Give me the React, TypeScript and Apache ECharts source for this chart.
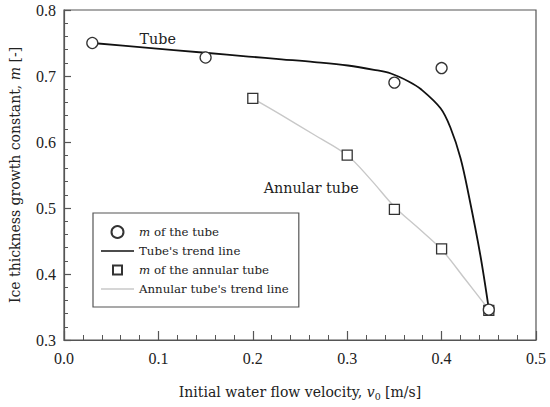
import React, { useEffect, useRef } from "react";
import * as echarts from "echarts";

const tubeX = [0.03, 0.15, 0.35, 0.4, 0.45];
const tubeM = [0.75, 0.728, 0.69, 0.712, 0.346];
const annularX = [0.2, 0.3, 0.35, 0.4, 0.45];
const annularM = [0.666, 0.58, 0.498, 0.438, 0.345];

const tubeTrendX = [0.03, 0.0832, 0.1495, 0.1955, 0.2305, 0.2653, 0.3007, 0.3284, 0.3463, 0.3656, 0.3779, 0.3989, 0.4095, 0.42, 0.4287, 0.441, 0.45];
const tubeTrendM = [0.75, 0.7433, 0.7352, 0.7295, 0.7253, 0.7211, 0.7159, 0.7094, 0.7038, 0.6914, 0.6803, 0.6511, 0.6212, 0.5758, 0.5197, 0.4288, 0.347];

const annularTrendX = [0.2, 0.23, 0.265, 0.3, 0.325, 0.35, 0.375, 0.4, 0.425, 0.45];
const annularTrendM = [0.666, 0.641, 0.611, 0.58, 0.543, 0.502, 0.47, 0.437, 0.392, 0.346];

const seriesNames = ["m of the tube", "Tube's trend line", "m of the annular tube", "Annular tube's trend line"];
const annotations = [
  { text: "Tube", x: 0.08, y: 0.756 },
  { text: "Annular tube", x: 0.2115, y: 0.53 },
];

const FONT = "'DejaVu Serif', 'Liberation Serif', serif";
const NUMFONT = "'Liberation Serif', 'DejaVu Serif', serif";
const TXT = "#222";
const AX = "#555";
const TUBE_LINE = "#111";
const ANN_LINE = "#c8c8c8";

const zip = (xs: number[], ys: number[]) => xs.map((x, i) => [x, ys[i]]);

const curveSeries = (name: string, xs: number[], ys: number[], color: string, width: number, z: number) => ({
  name,
  type: "custom",
  data: zip(xs, ys),
  encode: { x: 0, y: 1 },
  itemStyle: { color },
  z,
  renderItem: (params: any, api: any) => {
    if (params.dataIndex !== 0) return null;
    const pts = xs.map((x, i) => api.coord([x, ys[i]]));
    return {
      type: "polyline",
      shape: { points: pts, smooth: 0.35 },
      style: { stroke: color, lineWidth: width, fill: "none" },
      silent: true,
    };
  },
});

export default function App() {
  const ref = useRef<HTMLDivElement>(null);
  useEffect(() => {
    if (!ref.current) return;
    const chart = echarts.init(ref.current, undefined, { renderer: "svg" });
    const lineIcon = "path://M0,0M33,12M0,5.15L33,5.15L33,6.85L0,6.85Z";
    const option: any = {
      animation: false,
      backgroundColor: "#fff",
      grid: {
        left: 61,
        right: 14,
        top: 10,
        bottom: 67,
        show: true,
        borderColor: AX,
        borderWidth: 1.2,
        backgroundColor: "transparent",
      },
      xAxis: {
        type: "value",
        min: 0,
        max: 0.5,
        interval: 0.1,
        name: "{n|Initial water flow velocity, }{i|v}{s|0}{n| [m/s]}",
        nameLocation: "middle",
        nameGap: 43,
        nameTextStyle: {
          rich: {
            n: { fontFamily: FONT, fontSize: 14, color: TXT, lineHeight: 18 },
            i: { fontFamily: FONT, fontSize: 14, color: TXT, fontStyle: "italic", lineHeight: 18 },
            s: { fontFamily: FONT, fontSize: 9.5, color: TXT, lineHeight: 10, verticalAlign: "bottom" },
          },
        },
        axisLine: { lineStyle: { color: AX, width: 1.2 } },
        axisTick: { inside: true, length: 9, lineStyle: { color: AX, width: 1.2 } },
        minorTick: { show: true, splitNumber: 5, length: 5, lineStyle: { color: AX, width: 1 } },
        splitLine: { show: false },
        axisLabel: {
          margin: 10,
          fontFamily: NUMFONT,
          fontSize: 16,
          color: TXT,
          formatter: (v: number) => v.toFixed(1),
        },
      },
      yAxis: {
        type: "value",
        min: 0.3,
        max: 0.8,
        interval: 0.1,
        name: "{n|Ice thickness growth constant, }{i|m}{n| [-]}",
        nameLocation: "middle",
        nameRotate: 90,
        nameGap: 42,
        nameTextStyle: {
          rich: {
            n: { fontFamily: FONT, fontSize: 14, color: TXT },
            i: { fontFamily: FONT, fontSize: 14, color: TXT, fontStyle: "italic" },
          },
        },
        axisLine: { show: true, lineStyle: { color: AX, width: 1.2 } },
        axisTick: { show: true, inside: true, length: 7, lineStyle: { color: AX, width: 1.2 } },
        minorTick: { show: true, splitNumber: 5, length: 4, lineStyle: { color: AX, width: 1 } },
        splitLine: { show: false },
        axisLabel: {
          margin: 8,
          fontFamily: NUMFONT,
          fontSize: 16,
          color: TXT,
          formatter: (v: number) => v.toFixed(1),
        },
      },
      legend: {
        orient: "vertical",
        left: 93,
        top: 213,
        padding: [12, 10, 11, 8],
        borderColor: AX,
        borderWidth: 1.2,
        backgroundColor: "#fff",
        itemWidth: 33,
        itemHeight: 12,
        itemGap: 5,
        symbolKeepAspect: true,
        data: [
          { name: seriesNames[0], icon: "circle" },
          { name: seriesNames[1], icon: lineIcon, itemStyle: { color: TUBE_LINE, borderWidth: 0 } },
          { name: seriesNames[2], icon: "path://M0,0M12,12M1.5,1.5L10.5,1.5L10.5,10.5L1.5,10.5Z" },
          { name: seriesNames[3], icon: lineIcon, itemStyle: { color: ANN_LINE, borderWidth: 0 } },
        ],
        formatter: (name: string) =>
          name.startsWith("m ") ? "{i|m}{n|" + name.slice(1) + "}" : "{n|" + name + "}",
        textStyle: {
          fontFamily: FONT,
          fontSize: 11.8,
          color: TXT,
          lineHeight: 14,
          rich: {
            n: { fontFamily: FONT, fontSize: 11.8, color: TXT, lineHeight: 14 },
            i: { fontFamily: FONT, fontSize: 11.8, color: TXT, fontStyle: "italic", lineHeight: 14 },
          },
        },
      },
      series: [
        curveSeries(seriesNames[1], tubeTrendX, tubeTrendM, TUBE_LINE, 1.8, 2),
        curveSeries(seriesNames[3], annularTrendX, annularTrendM, ANN_LINE, 1.4, 1),
        {
          name: seriesNames[2],
          type: "scatter",
          data: zip(annularX, annularM),
          symbol: "rect",
          symbolSize: 10,
          itemStyle: { color: "#fff", borderColor: "#333", borderWidth: 1.3, opacity: 1 },
          z: 3,
        },
        {
          name: seriesNames[0],
          type: "scatter",
          data: zip(tubeX, tubeM),
          symbol: "circle",
          symbolSize: 11,
          itemStyle: { color: "#fff", borderColor: "#333", borderWidth: 1.3, opacity: 1 },
          z: 4,
        },
      ],
    };
    chart.setOption(option);
    const graphics = annotations.map((a) => {
      const [px, py] = chart.convertToPixel({ gridIndex: 0 }, [a.x, a.y]);
      return {
        type: "text",
        x: px,
        y: py,
        style: {
          text: a.text,
          fontFamily: FONT,
          fontSize: 14.3,
          fill: TXT,
          align: "left",
          verticalAlign: "middle",
        },
        z: 10,
      };
    });
    chart.setOption({ graphic: graphics });
    return () => chart.dispose();
  }, []);
  return (
    <div
      ref={ref}
      style={{ position: "absolute", left: 0, top: 0, width: 550, height: 407 }}
    />
  );
}
